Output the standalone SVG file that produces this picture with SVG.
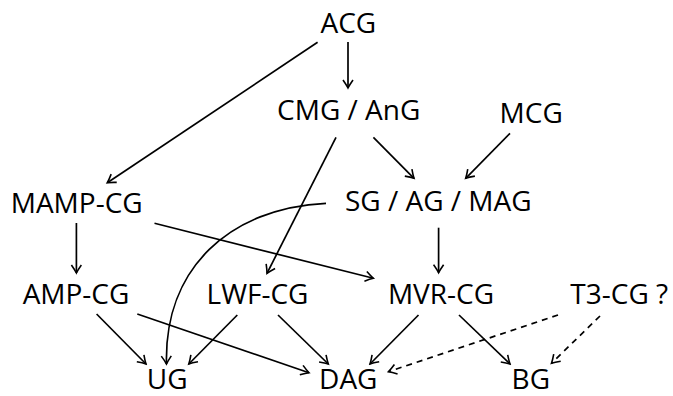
<svg xmlns="http://www.w3.org/2000/svg" width="673" height="396" viewBox="0 0 673 396">
<style>
text{font-family:"Open Sans","DejaVu Sans",sans-serif;font-size:28px;fill:#000;text-anchor:middle}
.e{fill:none;stroke:#000;stroke-width:1.7;marker-end:url(#arr)}
.d{stroke-dasharray:6 5}
</style>
<defs>
<marker id="arr" viewBox="-10 -6 12 12" refX="0" refY="0" markerWidth="12" markerHeight="12" orient="auto" markerUnits="userSpaceOnUse">
<path d="M-8,-5 Q-3,-1.5 0,0 Q-3,1.5 -8,5" fill="none" stroke="#000" stroke-width="1.6"/>
</marker>
</defs>
<rect width="673" height="396" fill="#fff"/>
<g id="connectors">
<path class="e" d="M348,42 L348,88"/>
<path class="e" d="M317.6,42.3 L107.3,182.7"/>
<path class="e" d="M336,137.3 L267,273.3"/>
<path class="e" d="M373.4,137.3 L414,178.3"/>
<path class="e" d="M510,133.3 L465.7,178.3"/>
<path class="e" d="M326,203.3 C230,208 164,268 166.5,364"/>
<path class="e" d="M154.5,223.3 L373.4,278.3"/>
<path class="e" d="M76.4,223 L76.4,273"/>
<path class="e" d="M438.6,227.7 L438.6,272.7"/>
<path class="e" d="M96.6,314 L146,364"/>
<path class="e" d="M137.3,314 L309,372.7"/>
<path class="e" d="M237.3,315 L188.8,364"/>
<path class="e" d="M278,315 L328.3,364"/>
<path class="e" d="M418.5,315 L370,364"/>
<path class="e" d="M459,315 L510,364"/>
<path class="e d" d="M558,315 L388.4,371.7"/>
<path class="e d" d="M600,316 L551.5,363.3"/>
</g>
<g id="ACG"><text x="348.3" y="32.7">ACG</text></g>
<g id="CMG_AnG"><text x="348.7" y="120">CMG / AnG</text></g>
<g id="MCG"><text x="531.2" y="123.3">MCG</text></g>
<g id="MAMP-CG"><text x="76.7" y="213">MAMP-CG</text></g>
<g id="SG_AG_MAG"><text x="438.3" y="211">SG / AG / MAG</text></g>
<g id="AMP-CG"><text x="76" y="304.3">AMP-CG</text></g>
<g id="LWF-CG"><text x="257.5" y="304">LWF-CG</text></g>
<g id="MVR-CG"><text x="441" y="304">MVR-CG</text></g>
<g id="T3-CG"><text x="619.2" y="304">T3-CG ?</text></g>
<g id="UG"><text x="167.2" y="389">UG</text></g>
<g id="DAG"><text x="348.3" y="389">DAG</text></g>
<g id="BG"><text x="530.8" y="389">BG</text></g>
</svg>
